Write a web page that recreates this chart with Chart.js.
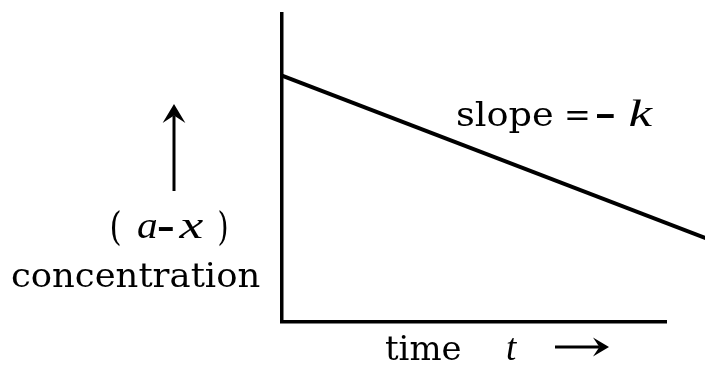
<!DOCTYPE html>
<html>
<head>
<meta charset="utf-8">
<title>First order reaction: concentration vs time</title>
<script src="https://cdn.jsdelivr.net/npm/chart.js@4/dist/chart.umd.min.js"></script>
<style>
  body { margin: 0; background: #fff; }
  canvas { display: block; }
</style>
</head>
<body>
<canvas id="rateChart" width="705" height="368"></canvas>
<script>
'use strict';

// Data (arbitrary units, axes run 0..10).
const timeValues = [0, 11.5];            // line runs past the end of the time axis
const concentrationValues = [8.0, 2.5];  // (a-x) falls linearly
const axisMin = 0;
const axisMax = 10;

// Fonts.
const ROMAN = '33px "DejaVu Serif"';
const ITALIC = 'italic 37px "Liberation Serif"';
const BOLD = 'bold 33px "DejaVu Serif"';
const PAREN = '39px "DejaVu Serif"';

// Draw text so that its ink runs from x to x + width.
function fitInk(ctx, text, x, y, width, font) {
  ctx.font = font;
  let m = ctx.measureText(text);
  let inkWidth = m.actualBoundingBoxLeft + m.actualBoundingBoxRight;
  ctx.save();
  ctx.translate(x, y);
  ctx.scale(width / inkWidth, 1);
  ctx.fillText(text, m.actualBoundingBoxLeft, 0);
  ctx.restore();
}

function arrowLine(ctx, x1, y1, x2, y2, head) {
  let ang = Math.atan2(y2 - y1, x2 - x1);
  let back = head * 0.6;
  ctx.beginPath();
  ctx.moveTo(x1, y1);
  ctx.lineTo(x2 - Math.cos(ang) * back, y2 - Math.sin(ang) * back);
  ctx.stroke();
  // arrow head, slightly swept back
  ctx.beginPath();
  ctx.moveTo(x2, y2);
  ctx.lineTo(x2 - Math.cos(ang) * head - Math.sin(ang) * head * 0.6, y2 - Math.sin(ang) * head + Math.cos(ang) * head * 0.6);
  ctx.lineTo(x2 - Math.cos(ang) * back, y2 - Math.sin(ang) * back);
  ctx.lineTo(x2 - Math.cos(ang) * head + Math.sin(ang) * head * 0.6, y2 - Math.sin(ang) * head - Math.cos(ang) * head * 0.6);
  ctx.closePath();
  ctx.fill();
}

// Labels and arrows around the plot.
const labelPlugin = {
  id: 'labels',
  afterDraw(chart) {
    const ctx = chart.ctx;
    ctx.save();
    ctx.fillStyle = '#000';
    ctx.strokeStyle = '#000';
    ctx.textBaseline = 'alphabetic';

    // slope = - k
    fitInk(ctx, 'slope', 457, 126, 95, ROMAN);
    fitInk(ctx, '=', 567, 126, 21, '32px "DejaVu Serif"');
    fitInk(ctx, '\u2013', 596, 125, 18, BOLD);
    fitInk(ctx, 'k', 630, 126, 23, ITALIC);

    // y axis label
    ctx.lineWidth = 3;
    arrowLine(ctx, 174, 191, 174, 104, 19);
    fitInk(ctx, '(', 112, 240, 8, PAREN);
    fitInk(ctx, 'a', 138, 238, 19, ITALIC);
    fitInk(ctx, '\u2013', 158, 238, 15, BOLD);
    fitInk(ctx, 'x', 178, 238, 26, ITALIC);
    fitInk(ctx, ')', 219, 240, 8, PAREN);
    fitInk(ctx, 'concentration', 12, 287, 248, ROMAN);

    // x axis label
    fitInk(ctx, 'time', 385, 360, 75, ROMAN);
    fitInk(ctx, 't', 507, 360, 11, ITALIC);
    arrowLine(ctx, 555, 347, 609, 347, 16);

    ctx.restore();
  }
};

let points = [];
for (let i = 0; i < timeValues.length; i++) {
  points.push({ x: timeValues[i], y: concentrationValues[i] });
}

const data = {
  datasets: [
    {
      label: '(a-x)',
      data: points,
      borderColor: '#000',
      borderWidth: 4,
      pointRadius: 0,
      tension: 0,
      clip: false,
    },
  ]
};

const axisStyle = {
  type: 'linear',
  min: axisMin,
  max: axisMax,
  grid: { display: false, drawTicks: false },
  ticks: { display: false },
  border: { display: true, color: '#000', width: 3.5 },
};

const config = {
  type: 'line',
  data: data,
  options: {
    responsive: false,
    animation: false,
    devicePixelRatio: 1,
    layout: {
      padding: { left: 282, right: 39, top: 14, bottom: 46 },
    },
    scales: {
      x: axisStyle,
      y: axisStyle,
    },
    plugins: {
      legend: { display: false },
      tooltip: { enabled: false },
    },
  },
  plugins: [labelPlugin],
};

const rateChart = new Chart(document.getElementById('rateChart'), config);
</script>
</body>
</html>
